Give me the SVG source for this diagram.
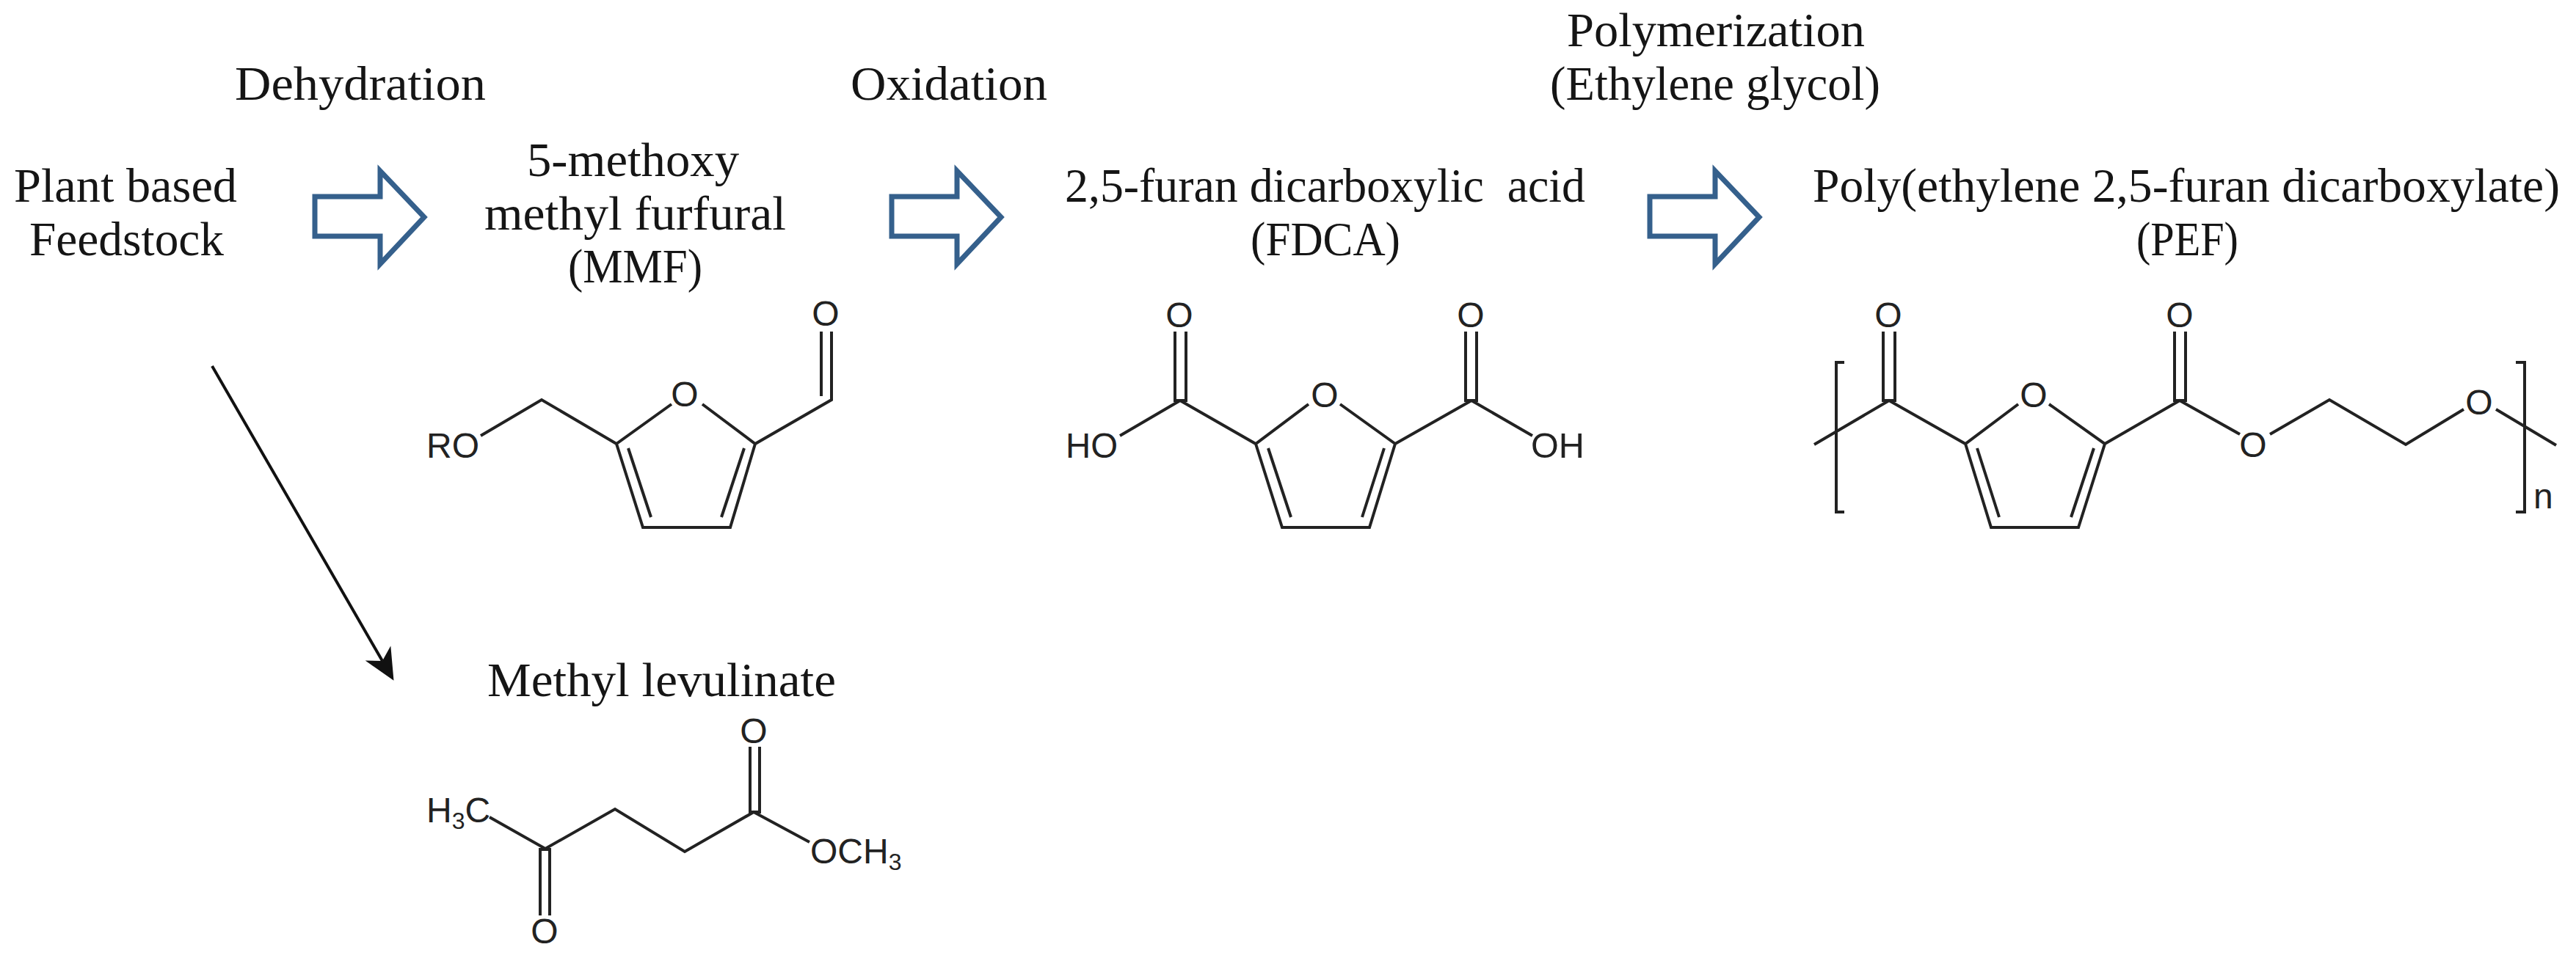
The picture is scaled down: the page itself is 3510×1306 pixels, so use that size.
<svg xmlns="http://www.w3.org/2000/svg" xmlns:xlink="http://www.w3.org/1999/xlink" width="3510" height="1306" viewBox="0 0 3510 1306">
<style>
.t{font-family:"Liberation Serif","Times New Roman",serif;font-size:65px;fill:#151515}
.a{font-family:"Liberation Sans",Arial,sans-serif;font-size:48px;fill:#222}
.m{text-anchor:middle}
.s{font-size:32px}
.b{fill:none;stroke:#222;stroke-width:4;stroke-linecap:butt;stroke-linejoin:miter}
.big{fill:#fff;stroke:#35608c;stroke-width:7;stroke-linejoin:miter}
.ln{fill:none;stroke:#111;stroke-width:4}
</style>
<defs>
<path id="fat" class="big" d="M0,0 H89 V-35 L149,28 L89,92 V54 H0 Z"/>
<marker id="st" markerUnits="userSpaceOnUse" markerWidth="44" markerHeight="44" refX="12" refY="22" orient="auto" overflow="visible"><path d="M43,22 L0,2 L12,22 L0,42 Z" fill="#111"/></marker>
</defs>
<rect width="3510" height="1306" fill="#fff"/>
<g id="connectors">
<use xlink:href="#fat" href="#fat" x="429" y="268"/>
<use xlink:href="#fat" href="#fat" x="1215" y="268"/>
<use xlink:href="#fat" href="#fat" x="2248" y="268"/>
<path class="ln" d="M289,499 L521,901" marker-end="url(#st)"/>
</g>
<g id="label-dehydration"><text class="t" x="320" y="136" textLength="342" lengthAdjust="spacingAndGlyphs">Dehydration</text></g>
<g id="label-oxidation"><text class="t" x="1159" y="136" textLength="268" lengthAdjust="spacingAndGlyphs">Oxidation</text></g>
<g id="label-polymerization">
<text class="t" x="2135" y="63" textLength="406" lengthAdjust="spacingAndGlyphs">Polymerization</text>
<text class="t" x="2112" y="136" textLength="450" lengthAdjust="spacingAndGlyphs">(Ethylene glycol)</text>
</g>
<g id="node-feedstock">
<text class="t" x="19" y="275" textLength="304" lengthAdjust="spacingAndGlyphs">Plant based</text>
<text class="t" x="40" y="348" textLength="265" lengthAdjust="spacingAndGlyphs">Feedstock</text>
</g>
<g id="node-mmf">
<text class="t" x="718" y="240" textLength="289" lengthAdjust="spacingAndGlyphs">5-methoxy</text>
<text class="t" x="660" y="313" textLength="411" lengthAdjust="spacingAndGlyphs">methyl furfural</text>
<text class="t" x="774" y="385" textLength="183" lengthAdjust="spacingAndGlyphs">(MMF)</text>
<path class="b" d="M1119,452V540M1133,452V545L1029,605L957,551M915,551L840,605L876,719H995L1029,605M856,611L887,705M1014,611L983,705M840,605L738,545L655,594"/>
<text class="a m" x="1125" y="444">O</text>
<text class="a m" x="933" y="554">O</text>
<text class="a" x="581" y="624" textLength="72" lengthAdjust="spacingAndGlyphs">RO</text>
</g>
<g id="node-fdca">
<text class="t" x="1451" y="275" textLength="709" lengthAdjust="spacingAndGlyphs" xml:space="preserve">2,5-furan dicarboxylic  acid</text>
<text class="t" x="1704" y="348" textLength="204" lengthAdjust="spacingAndGlyphs">(FDCA)</text>
<path class="b" d="M1601,452V546H1616V452M1608,546L1711,605L1783,551M1826,551L1901,605L1866,719H1747L1711,605M1728,611L1759,705M1886,611L1856,705M1608,546L1526,594M1997,452V546H2012V452M2005,546L1901,605M2005,546L2088,594"/>
<text class="a m" x="1607" y="446">O</text>
<text class="a m" x="2004" y="446">O</text>
<text class="a m" x="1805" y="555">O</text>
<text class="a" x="1452" y="624" textLength="71" lengthAdjust="spacingAndGlyphs">HO</text>
<text class="a" x="2086" y="624" textLength="73" lengthAdjust="spacingAndGlyphs">OH</text>
</g>
<g id="node-pef">
<text class="t" x="2470" y="275" textLength="1018" lengthAdjust="spacingAndGlyphs">Poly(ethylene 2,5-furan dicarboxylate)</text>
<text class="t" x="2911" y="348" textLength="139" lengthAdjust="spacingAndGlyphs">(PEF)</text>
<path class="b" d="M2566,452V546H2582V452M2472,606L2574,546L2678,605L2750,551M2792,551L2868,605L2832,719H2713L2678,605M2694,611L2724,705M2853,611L2822,705M2963,452V546H2978V452M2868,605L2970,546L3052,592M3093,592L3174,545L3278,606L3357,558M3401,558L3483,607M2513,494H2502V698H2513M3428,494H3440V698H3428"/>
<text class="a m" x="2573" y="446">O</text>
<text class="a m" x="2970" y="446">O</text>
<text class="a m" x="2771" y="555">O</text>
<text class="a m" x="3070" y="623">O</text>
<text class="a m" x="3378" y="565">O</text>
<text class="a" x="3452" y="693">n</text>
</g>
<g id="node-methyl-levulinate">
<text class="t" x="664" y="949" textLength="475" lengthAdjust="spacingAndGlyphs">Methyl levulinate</text>
<path class="b" d="M667,1114L743,1157L838,1103L933,1161L1027,1107L1103,1148M1022,1018V1107H1035V1018M736,1248V1158H749V1248"/>
<text class="a m" x="1027" y="1013">O</text>
<text class="a m" x="742" y="1286">O</text>
<text class="a" x="581" y="1121">H<tspan class="s" dy="9">3</tspan><tspan dy="-9">C</tspan></text>
<text class="a" x="1104" y="1177">OCH<tspan class="s" dy="9">3</tspan></text>
</g>
</svg>
